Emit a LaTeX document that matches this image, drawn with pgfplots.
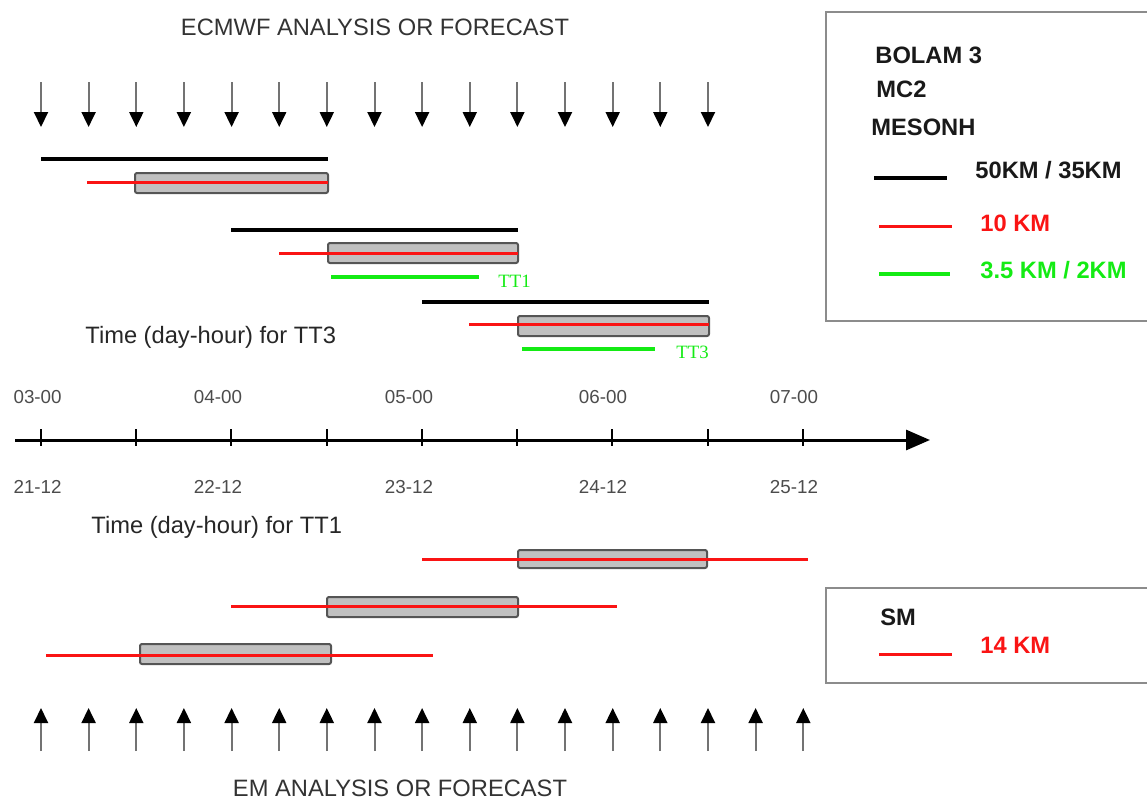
\documentclass[border=0pt]{standalone}
\usepackage{pgfplots}
\pgfplotsset{compat=1.18}
\usepackage{fontspec}
\setmainfont{Liberation Sans}
\newfontfamily\seriffont{Liberation Serif}
\usetikzlibrary{arrows.meta}
\definecolor{myred}{RGB}{250,20,20}
\definecolor{mygreen}{RGB}{20,235,20}
\definecolor{boxfill}{RGB}{192,192,192}
\definecolor{boxedge}{RGB}{85,85,85}
\newcommand\fbig{\fontsize{11.85}{14}\selectfont}
\newcommand\fsmall{\fontsize{9.4}{11}\selectfont}
\begin{document}
\begin{tikzpicture}
\begin{axis}[scale only axis, width=573.5pt, height=400pt,
  xmin=0, xmax=1147, ymin=0, ymax=800, y dir=reverse,
  hide axis, clip=false]

% ---- down arrows (ECMWF) ----
\addplot[black!55, line width=1pt, quiver={u=0,v=45},
  -{Triangle[width=7pt,length=7.5pt,black]}] coordinates {
 (41,82) (88.6,82) (136.3,82) (183.9,82) (231.6,82) (279.2,82) (326.8,82)
 (374.5,82) (422.1,82) (469.8,82) (517.4,82) (565,82) (612.7,82) (660.3,82) (708,82)};

% ---- top runs ----
\addplot[black, line width=1.7pt] coordinates {(41,159) (328,159)};
\addplot[boxedge, fill=boxfill, line width=1pt, rounded corners=1pt] coordinates {(135,173) (328,173) (328,193) (135,193)} -- cycle;
\addplot[myred, line width=1.5pt] coordinates {(87,182) (328,182)};

\addplot[black, line width=1.7pt] coordinates {(231,230) (518,230)};
\addplot[boxedge, fill=boxfill, line width=1pt, rounded corners=1pt] coordinates {(328,243) (518,243) (518,263) (328,263)} -- cycle;
\addplot[myred, line width=1.5pt] coordinates {(279,253) (518,253)};
\addplot[mygreen, line width=1.6pt] coordinates {(331,277) (479,277)};

\addplot[black, line width=1.7pt] coordinates {(422,302) (709,302)};
\addplot[boxedge, fill=boxfill, line width=1pt, rounded corners=1pt] coordinates {(518,316) (709,316) (709,336) (518,336)} -- cycle;
\addplot[myred, line width=1.5pt] coordinates {(469,324) (709,324)};
\addplot[mygreen, line width=1.6pt] coordinates {(522,349) (655,349)};

% ---- time axis ----
\addplot[black, line width=1.5pt, -{Triangle[width=10pt,length=12pt]}] coordinates {(15,440) (930,440)};
\addplot[black, line width=1.3pt, quiver={u=0,v=17}] coordinates {
 (41,429) (136,429) (231,429) (327,429) (422,429) (517,429) (612,429) (708,429) (803,429)};

% ---- bottom runs (SM) ----
\addplot[boxedge, fill=boxfill, line width=1pt, rounded corners=1pt] coordinates {(518,550) (707,550) (707,568) (518,568)} -- cycle;
\addplot[myred, line width=1.5pt] coordinates {(422,559) (808,559)};
\addplot[boxedge, fill=boxfill, line width=1pt, rounded corners=1pt] coordinates {(327,597) (518,597) (518,617) (327,617)} -- cycle;
\addplot[myred, line width=1.5pt] coordinates {(231,606) (617,606)};
\addplot[boxedge, fill=boxfill, line width=1pt, rounded corners=1pt] coordinates {(140,644) (331,644) (331,664) (140,664)} -- cycle;
\addplot[myred, line width=1.5pt] coordinates {(46,655) (433,655)};

% ---- up arrows (EM) ----
\addplot[black!55, line width=1pt, quiver={u=0,v=-43},
  -{Triangle[width=7pt,length=7.5pt,black]}] coordinates {
 (41,751) (88.6,751) (136.3,751) (183.9,751) (231.6,751) (279.2,751) (326.8,751)
 (374.5,751) (422.1,751) (469.8,751) (517.4,751) (565,751) (612.7,751) (660.3,751)
 (708,751) (755.6,751) (803.3,751)};

% ---- legend boxes ----
\addplot[black!45, line width=1pt] coordinates {(1147,12) (826,12) (826,321) (1147,321)};
\addplot[black, line width=1.7pt] coordinates {(874,178) (947,178)};
\addplot[myred, line width=1.5pt] coordinates {(879,226) (952,226)};
\addplot[mygreen, line width=1.6pt] coordinates {(879,274) (950,274)};

\addplot[black!45, line width=1pt] coordinates {(1147,588) (826,588) (826,683) (1147,683)};
\addplot[myred, line width=1.5pt] coordinates {(879,654) (952,654)};

% ---- texts ----
\node[inner sep=0, text=black!80, font=\fbig] at (axis cs:375,27) {ECMWF ANALYSIS OR FORECAST};
\node[inner sep=0, text=black!80, font=\fbig] at (axis cs:400,788) {EM ANALYSIS OR FORECAST};
\node[inner sep=0, anchor=west, text=black!85, font=\fbig] at (axis cs:85,337) {Time (day-hour) for TT3};
\node[inner sep=0, anchor=west, text=black!85, font=\fbig] at (axis cs:91,527) {Time (day-hour) for TT1};
\node[inner sep=0, anchor=west, text=mygreen, font=\seriffont\fsmall] at (axis cs:498,281) {TT1};
\node[inner sep=0, anchor=west, text=mygreen, font=\seriffont\fsmall] at (axis cs:676,352) {TT3};

\node[inner sep=0, text=black!70, font=\fsmall] at (axis cs:37.6,397) {03-00};
\node[inner sep=0, text=black!70, font=\fsmall] at (axis cs:218,397) {04-00};
\node[inner sep=0, text=black!70, font=\fsmall] at (axis cs:409,397) {05-00};
\node[inner sep=0, text=black!70, font=\fsmall] at (axis cs:603,397) {06-00};
\node[inner sep=0, text=black!70, font=\fsmall] at (axis cs:794,397) {07-00};
\node[inner sep=0, text=black!70, font=\fsmall] at (axis cs:37.6,487) {21-12};
\node[inner sep=0, text=black!70, font=\fsmall] at (axis cs:218,487) {22-12};
\node[inner sep=0, text=black!70, font=\fsmall] at (axis cs:409,487) {23-12};
\node[inner sep=0, text=black!70, font=\fsmall] at (axis cs:603,487) {24-12};
\node[inner sep=0, text=black!70, font=\fsmall] at (axis cs:794,487) {25-12};

\node[inner sep=0, anchor=west, text=black!90, font=\fbig\bfseries] at (axis cs:875,55) {BOLAM 3};
\node[inner sep=0, anchor=west, text=black!90, font=\fbig\bfseries] at (axis cs:876,89) {MC2};
\node[inner sep=0, anchor=west, text=black!90, font=\fbig\bfseries] at (axis cs:871,127) {MESONH};
\node[inner sep=0, anchor=west, text=black!90, font=\fbig\bfseries] at (axis cs:975,170) {50KM / 35KM};
\node[inner sep=0, anchor=west, text=myred, font=\fbig\bfseries] at (axis cs:980,223) {10 KM};
\node[inner sep=0, anchor=west, text=mygreen, font=\fbig\bfseries] at (axis cs:980,270) {3.5 KM / 2KM};
\node[inner sep=0, anchor=west, text=black!90, font=\fbig\bfseries] at (axis cs:880,617) {SM};
\node[inner sep=0, anchor=west, text=myred, font=\fbig\bfseries] at (axis cs:980,645) {14 KM};
\end{axis}
\pgfresetboundingbox
\path (current axis.south west) rectangle (current axis.north east);
\end{tikzpicture}
\end{document}
